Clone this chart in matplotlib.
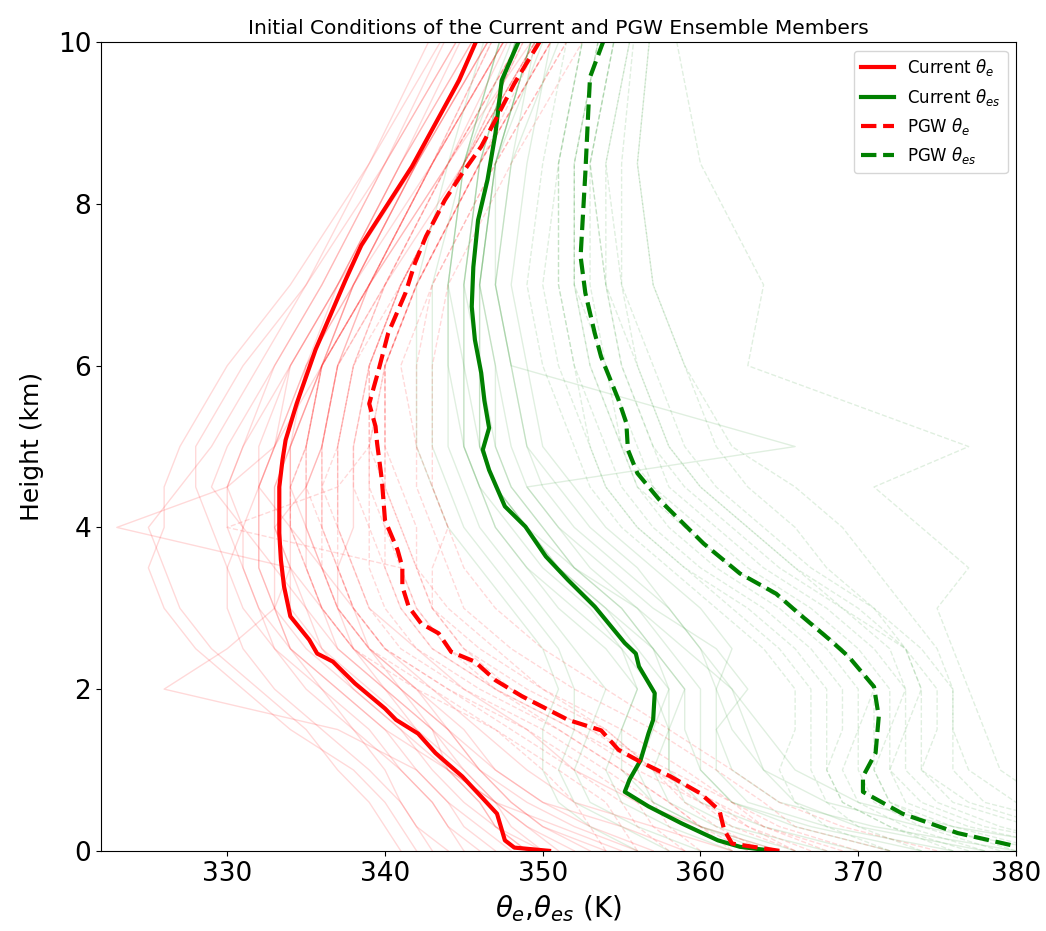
import numpy as np
import matplotlib
matplotlib.use('Agg')
import matplotlib.pyplot as plt

# ============================================================
# ENSEMBLE MEAN PROFILES (height km, theta K)
# ============================================================

cur_te_h = [0.0, 0.04, 0.13, 0.46, 0.67, 0.92, 1.21, 1.45, 1.62, 1.76, 2.07, 2.34, 2.44, 2.61,
            2.90, 3.27, 3.60, 3.93, 4.50, 4.83, 5.08, 5.53, 6.20, 7.06, 7.49, 8.46, 9.53, 10.2]
cur_te = [350.4, 348.2, 347.6, 347.1, 346.1, 344.9, 343.2, 342.1, 340.7, 340.0, 338.1, 336.7, 335.7, 335.2,
          334.0, 333.6, 333.4, 333.3, 333.3, 333.5, 333.7, 334.4, 335.6, 337.5, 338.5, 341.7, 344.7, 346.2]

cur_tes_h = [0.0, 0.05, 0.13, 0.34, 0.55, 0.73, 0.88, 1.12, 1.45, 1.62, 1.95, 2.28, 2.44, 2.57, 3.02,
             3.35, 3.64, 4.01, 4.26, 4.71, 4.96, 5.23, 5.57, 5.91, 6.32, 6.73, 7.22, 7.80, 8.30, 8.87,
             9.53, 10.2]
cur_tes = [364.6, 362.5, 361.1, 358.8, 356.7, 355.2, 355.5, 356.2, 356.7, 357.0, 357.1, 356.1, 355.9, 355.2, 353.3,
           351.6, 350.2, 348.9, 347.6, 346.6, 346.2, 346.6, 346.3, 346.1, 345.7, 345.5, 345.6, 345.9, 346.5, 347.0,
           347.4, 348.9]

pgw_te_h = [0.0, 0.09, 0.26, 0.50, 0.71, 0.92, 1.10, 1.25, 1.49, 1.62, 1.70, 1.91, 2.11, 2.34, 2.46,
            2.69, 2.81, 3.02, 3.27, 3.51, 3.72, 4.09, 4.59, 5.04, 5.25, 5.53, 5.95, 6.40, 6.90, 7.27,
            7.60, 8.05, 8.38, 8.71, 9.04, 9.49, 10.2]
pgw_te = [365.0, 362.0, 361.5, 361.2, 360.0, 358.1, 356.2, 354.8, 353.7, 351.6, 350.8, 348.7, 347.0, 345.7, 344.2,
          343.4, 342.3, 341.5, 341.1, 341.1, 340.8, 340.0, 339.8, 339.5, 339.4, 339.0, 339.6, 340.2, 341.3, 341.9,
          342.6, 343.8, 344.9, 346.1, 347.0, 348.2, 350.4]

pgw_tes_h = [0.0, 0.07, 0.22, 0.46, 0.73, 0.92, 1.21, 1.66, 2.03, 2.40, 2.61, 2.94, 3.18, 3.43, 3.80,
             4.34, 4.67, 4.96, 5.29, 5.58, 6.11, 6.40, 6.90, 7.35, 8.38, 9.20, 9.57, 10.2]
pgw_tes = [381.0, 379.7, 376.3, 372.8, 370.3, 370.3, 371.1, 371.3, 371.0, 369.4, 368.2, 366.2, 364.8, 362.5, 360.2,
           357.4, 356.0, 355.4, 355.3, 354.8, 353.7, 353.3, 352.7, 352.4, 352.7, 352.9, 353.0, 354.2]

# ============================================================
# INDIVIDUAL MEMBERS (on a common height grid)
# ============================================================

member_h = [0, 0.3, 0.6, 1.0, 1.5, 2.0, 2.5, 3.0, 3.5, 4.0, 4.5, 5.0, 6.0, 7.0, 8.5, 10.5]

cur_te_members = [
    [350, 347, 345, 343, 341, 338, 335, 333, 332, 332, 332, 333, 335, 338, 342, 348],
    [356, 352, 349, 346, 343, 340, 337, 336, 335, 334, 334, 334, 336, 338, 343, 349],
    [344, 342, 341, 339, 336, 333, 331, 330, 330, 331, 330, 331, 333, 336, 340, 346],
    [362, 357, 352, 349, 346, 343, 340, 338, 337, 336, 336, 336, 337, 340, 344, 350],
    [341, 340, 339, 337, 335, 332, 329, 327, 326, 325, 327, 329, 332, 335, 340, 345],
    [348, 346, 344, 342, 337, 326, 330, 333, 334, 333, 335, 336, 337, 339, 344, 351],
    [353, 350, 348, 346, 344, 341, 338, 336, 334, 323, 330, 333, 336, 339, 343, 348],
    [359, 355, 350, 347, 345, 342, 339, 337, 336, 335, 335, 335, 336, 338, 342, 347],
    [346, 344, 343, 341, 339, 336, 333, 331, 330, 329, 328, 328, 331, 335, 339, 345],
    [351, 349, 347, 345, 342, 340, 338, 337, 337, 338, 338, 338, 339, 341, 345, 351],
    [365, 360, 356, 352, 349, 345, 342, 339, 338, 337, 337, 337, 338, 340, 345, 350],
    [342, 341, 340, 338, 334, 331, 328, 326, 325, 326, 326, 327, 330, 334, 339, 344],
    [349, 347, 346, 344, 343, 341, 339, 338, 336, 334, 332, 333, 334, 337, 341, 347],
    [355, 351, 347, 344, 340, 337, 334, 332, 331, 331, 332, 333, 335, 337, 342, 348],
    [349, 347, 346, 344, 342, 339, 336, 334, 334, 333, 333, 334, 336, 338, 342, 348],
    [352, 349, 347, 345, 343, 340, 337, 335, 334, 334, 334, 334, 336, 339, 343, 349],
    [347, 345, 344, 342, 340, 337, 334, 333, 332, 332, 332, 332, 334, 337, 341, 347],
    [354, 350, 348, 346, 344, 342, 339, 337, 336, 335, 334, 335, 336, 339, 344, 349],
    [345, 344, 343, 341, 338, 335, 333, 332, 331, 330, 330, 331, 334, 337, 341, 346],
    [357, 353, 350, 347, 344, 341, 338, 336, 335, 335, 335, 336, 337, 339, 343, 349],
    [350, 348, 347, 344, 341, 338, 336, 335, 333, 331, 329, 330, 333, 336, 340, 346],
    [343, 342, 341, 340, 338, 336, 334, 333, 333, 333, 333, 334, 335, 338, 342, 347],
]

pgw_te_members = [
    [366, 362, 360, 356, 352, 347, 343, 341, 340, 340, 339, 339, 339, 341, 345, 351],
    [360, 358, 357, 354, 350, 345, 341, 339, 338, 337, 337, 337, 338, 340, 344, 350],
    [372, 366, 364, 361, 357, 352, 348, 345, 344, 343, 342, 342, 342, 343, 347, 353],
    [356, 355, 354, 351, 347, 342, 338, 336, 335, 334, 334, 335, 336, 339, 343, 349],
    [368, 364, 362, 359, 355, 350, 346, 343, 342, 342, 341, 340, 340, 342, 346, 352],
    [362, 360, 358, 355, 351, 347, 344, 342, 341, 330, 337, 339, 340, 342, 346, 351],
    [375, 369, 365, 362, 358, 354, 350, 347, 345, 344, 343, 343, 343, 344, 348, 354],
    [358, 356, 355, 352, 348, 344, 340, 338, 337, 337, 336, 336, 337, 340, 344, 350],
    [364, 361, 359, 357, 354, 349, 345, 343, 342, 341, 340, 340, 340, 342, 346, 352],
    [370, 365, 362, 358, 353, 348, 345, 343, 343, 344, 343, 342, 341, 343, 347, 353],
    [363, 360, 358, 355, 351, 346, 342, 340, 339, 339, 338, 338, 339, 341, 345, 351],
    [366, 363, 361, 357, 353, 348, 344, 342, 341, 340, 340, 340, 340, 342, 346, 352],
    [359, 357, 356, 353, 349, 344, 340, 338, 337, 336, 336, 337, 338, 341, 345, 350],
    [367, 363, 360, 357, 354, 350, 347, 344, 342, 341, 340, 339, 339, 341, 345, 351],
    [354, 353, 352, 350, 347, 343, 339, 337, 336, 336, 335, 335, 336, 339, 343, 348],
    [369, 364, 361, 357, 352, 347, 343, 341, 340, 339, 339, 339, 340, 342, 346, 352],
]

cur_tes_members = [
    [368, 362, 359, 358, 358, 358, 356, 354, 351, 349, 347, 346, 346, 345, 346, 349],
    [360, 356, 353, 352, 353, 354, 352, 350, 348, 346, 345, 344, 344, 344, 345, 348],
    [378, 370, 366, 364, 363, 362, 360, 358, 355, 352, 350, 349, 348, 347, 348, 350],
    [356, 353, 351, 350, 350, 351, 350, 348, 346, 344, 343, 342, 342, 342, 344, 347],
    [372, 366, 362, 360, 360, 360, 358, 356, 353, 351, 349, 366, 348, 347, 347, 350],
    [385, 376, 370, 366, 364, 362, 359, 356, 352, 350, 348, 347, 346, 346, 347, 350],
    [364, 360, 357, 356, 357, 358, 357, 355, 352, 349, 347, 346, 345, 345, 346, 349],
    [382, 374, 368, 364, 362, 361, 362, 360, 357, 354, 352, 350, 349, 348, 349, 351],
    [362, 358, 355, 354, 355, 356, 354, 351, 349, 347, 346, 345, 345, 344, 345, 348],
    [376, 368, 363, 361, 361, 363, 361, 357, 354, 351, 349, 348, 347, 346, 347, 350],
    [366, 361, 358, 357, 358, 357, 355, 353, 350, 348, 346, 345, 345, 345, 346, 349],
    [370, 364, 360, 358, 358, 359, 357, 354, 351, 349, 347, 346, 346, 346, 347, 350],
    [358, 355, 352, 351, 352, 352, 351, 349, 347, 345, 344, 343, 343, 343, 345, 348],
    [374, 367, 362, 360, 359, 359, 357, 355, 352, 350, 348, 347, 347, 346, 347, 351],
    [365, 360, 357, 355, 355, 356, 355, 352, 349, 347, 346, 345, 344, 344, 345, 349],
    [380, 371, 365, 362, 361, 361, 360, 358, 356, 353, 351, 349, 348, 347, 348, 352],
]

pgw_tes_members = [
    [384, 377, 373, 372, 372, 372, 370, 367, 363, 360, 357, 356, 354, 353, 353, 355],
    [376, 372, 369, 368, 369, 369, 367, 364, 360, 357, 355, 354, 352, 351, 351, 353],
    [392, 384, 378, 376, 376, 376, 374, 371, 367, 364, 361, 359, 357, 355, 355, 356],
    [372, 368, 366, 365, 366, 366, 364, 361, 358, 355, 353, 352, 350, 349, 350, 352],
    [388, 381, 376, 374, 375, 375, 373, 369, 365, 362, 359, 357, 355, 354, 354, 356],
    [380, 375, 372, 371, 372, 373, 372, 369, 366, 363, 360, 358, 356, 354, 353, 355],
    [396, 388, 382, 379, 378, 377, 376, 375, 377, 374, 371, 377, 363, 364, 360, 358],
    [378, 373, 370, 369, 370, 371, 369, 366, 362, 359, 356, 355, 353, 352, 352, 354],
    [386, 378, 374, 372, 373, 374, 373, 371, 368, 366, 363, 361, 359, 357, 356, 357],
    [374, 370, 368, 367, 367, 367, 365, 362, 359, 356, 354, 353, 351, 350, 351, 353],
    [382, 376, 372, 371, 371, 371, 369, 366, 362, 359, 357, 355, 354, 352, 352, 354],
    [379, 374, 371, 370, 370, 370, 368, 365, 361, 358, 356, 355, 353, 352, 352, 354],
    [390, 382, 377, 374, 374, 374, 373, 370, 366, 363, 360, 358, 356, 355, 354, 356],
    [377, 372, 369, 368, 368, 368, 366, 363, 359, 356, 354, 353, 352, 351, 351, 353],
    [385, 379, 375, 373, 373, 373, 371, 368, 364, 361, 358, 357, 355, 354, 353, 355],
    [394, 386, 380, 377, 376, 376, 375, 373, 371, 369, 366, 362, 359, 357, 356, 357],
]

# ============================================================
# PLOT
# ============================================================

fig = plt.figure(figsize=(10.46, 9.31), dpi=100)
ax = fig.add_axes([0.0966, 0.0861, 0.8747, 0.8685])

for m in cur_te_members:
    ax.plot(m, member_h, color='red', alpha=0.15, lw=1)
for m in pgw_te_members:
    ax.plot(m, member_h, color='red', ls='--', alpha=0.15, lw=1)
for m in cur_tes_members:
    ax.plot(m, member_h, color='green', alpha=0.12, lw=1)
for m in pgw_tes_members:
    ax.plot(m, member_h, color='green', ls='--', alpha=0.12, lw=1)

ax.plot(cur_te, cur_te_h, color='red', lw=3, label=r'Current $\theta_e$')
ax.plot(cur_tes, cur_tes_h, color='green', lw=3, label=r'Current $\theta_{es}$')
ax.plot(pgw_te, pgw_te_h, color='red', lw=3, ls='--', label=r'PGW $\theta_e$')
ax.plot(pgw_tes, pgw_tes_h, color='green', lw=3, ls='--', label=r'PGW $\theta_{es}$')

ax.set_xlim(322, 380)
ax.set_ylim(0, 10)
ax.set_xticks([330, 340, 350, 360, 370, 380])
ax.set_yticks([0, 2, 4, 6, 8, 10])
ax.tick_params(labelsize=19)

ax.set_xlabel(r'$\theta_e$,$\theta_{es}$ (K)', fontsize=20, labelpad=5)
ax.set_ylabel('Height (km)', fontsize=18, labelpad=10)
ax.set_title('Initial Conditions of the Current and PGW Ensemble Members', fontsize=14.5)

ax.legend(loc='upper right', fontsize=12)

fig.savefig('out.png', dpi=100)
